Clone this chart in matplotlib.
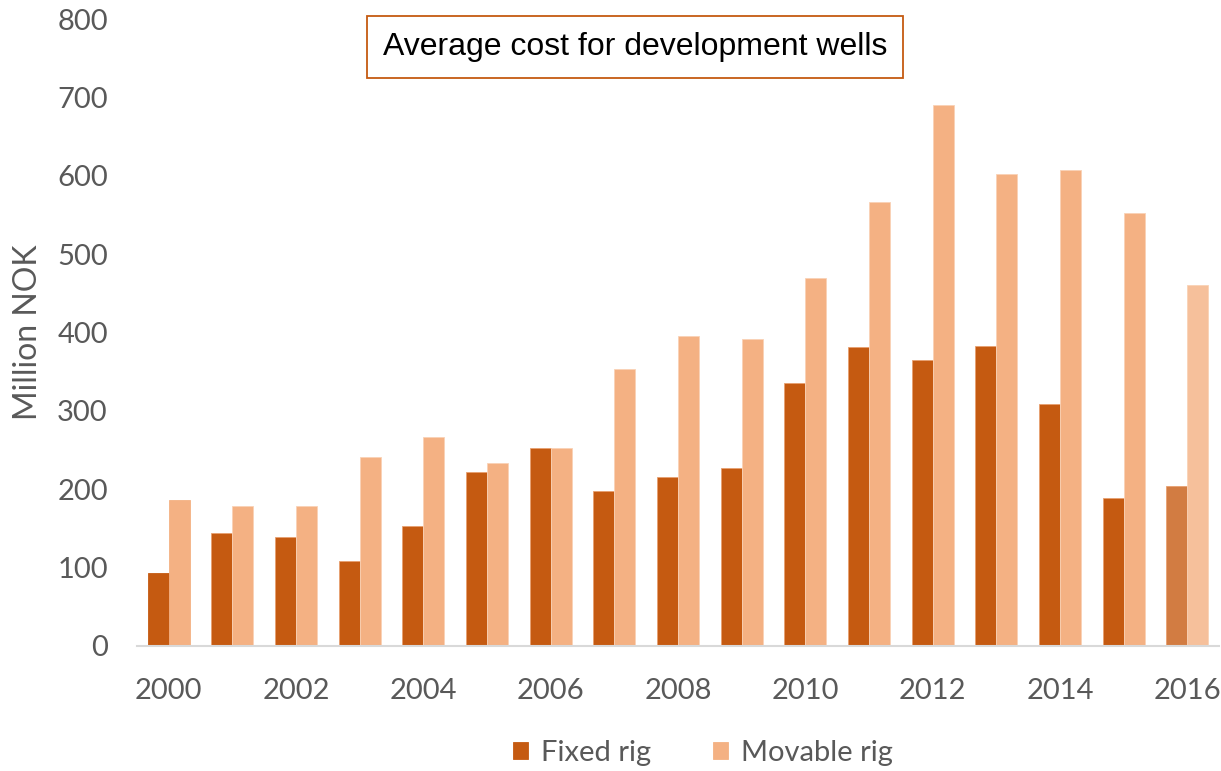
import matplotlib.pyplot as plt
import numpy as np

years = list(range(2000, 2017))
fixed_rig = [93, 144, 139, 109, 153, 222, 252, 198, 216, 227, 336, 381, 365, 383, 309, 189, 204]
movable_rig = [186, 179, 179, 241, 267, 234, 252, 354, 395, 392, 470, 566, 690, 602, 607, 553, 461]
tick_years = years[::2]

dark = '#C55A11'
light = '#F4B183'
# last year drawn in paler shades (preliminary figures)
dark_last = '#D27C42'
light_last = '#F6C09B'
gray = '#595959'

plt.rcParams['font.family'] = ['Lato', 'DejaVu Sans']

fig = plt.figure(figsize=(12.21, 7.71), dpi=100)
W, H = 1221, 771
ax = fig.add_axes([137 / W, (H - 646) / H, (1219 - 137) / W, (646 - 19) / H])

x = np.arange(len(years))
w = 0.33
c_fixed = [dark] * (len(years) - 1) + [dark_last]
c_mov = [light] * (len(years) - 1) + [light_last]
ax.bar(x - w / 2, fixed_rig, w, color=c_fixed, edgecolor='#E8A070', linewidth=0.6, label='Fixed rig')
ax.bar(x + w / 2, movable_rig, w, color=c_mov, edgecolor='#F9D2B6', linewidth=0.6, label='Movable rig')

ax.set_xlim(-0.5, len(years) - 0.5)
ax.set_ylim(0, 800)
ax.set_yticks(range(0, 801, 100))
ax.set_xticks([years.index(y) for y in tick_years])
ax.set_xticklabels([str(y) for y in tick_years])
ax.tick_params(axis='both', length=0, labelsize=21, labelcolor=gray)
ax.tick_params(axis='x', pad=23)
ax.tick_params(axis='y', pad=21)

for s in ['top', 'right', 'left']:
    ax.spines[s].set_visible(False)
ax.spines['bottom'].set_color('#D9D9D9')
ax.spines['bottom'].set_linewidth(1.5)

ax.set_ylabel('Million NOK', fontsize=23, color=gray, labelpad=10)

fig.text(635 / W, 1 - 47 / H, 'Average cost for development wells', fontsize=23,
         family='Liberation Sans', color='black', ha='center', va='center',
         bbox=dict(boxstyle='square,pad=0.5', facecolor='white', edgecolor=dark, linewidth=1.3))

handles, labels = ax.get_legend_handles_labels()
for h, c in zip(handles, [dark, light]):
    h.patches[0].set_edgecolor(c)
leg = fig.legend(handles, labels, loc='center', bbox_to_anchor=(703 / W, 1 - 753 / H),
                 ncol=2, frameon=False, fontsize=21, handlelength=0.5, handleheight=0.5,
                 handletextpad=0.45, columnspacing=2.15)
for t in leg.get_texts():
    t.set_color(gray)

fig.savefig('out.png', dpi=100)
